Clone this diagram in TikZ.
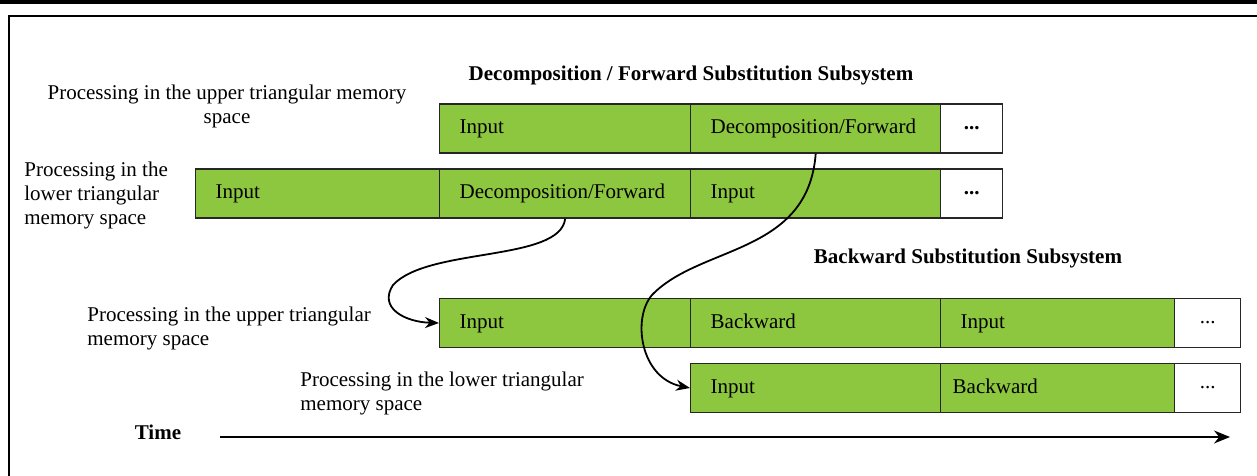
\documentclass[tikz,border=0pt]{standalone}
\usepackage{fontspec}
\setmainfont{Liberation Serif}
\usetikzlibrary{arrows.meta}
\definecolor{cellgreen}{RGB}{141,198,63}
\begin{document}
\begin{tikzpicture}[x=0.5pt,y=-0.5pt,
 every node/.style={font=\fontsize{10.5}{12}\selectfont},
 cell/.style={draw=black!85, line width=0.7pt, fill=cellgreen, minimum height=24.5pt, inner xsep=10pt, inner ysep=0pt, align=left, anchor=west, text height=7pt, text depth=2pt},
 dotcell/.style={draw=black!85, line width=0.7pt, fill=white, minimum height=24.5pt, inner sep=0pt, anchor=west},
 lbl/.style={align=left, anchor=west, inner sep=0pt},
 ttl/.style={font=\fontsize{10.5}{12}\selectfont\bfseries, inner sep=0pt},
 flow/.style={line width=0.9pt, -{Stealth[length=7pt,width=5.5pt]}}
]
\useasboundingbox (0,0) rectangle (1257,476);
% frame
\draw[line width=1.8pt] (0,2) -- (1257,2);
\draw[line width=0.8pt] (9,476) -- (9,16) -- (1257,16);

% titles
\node[ttl] (t1) at (691,75) {Decomposition / Forward Substitution Subsystem};
\node[ttl] (t2) at (968,258) {Backward Substitution Subsystem};

% side labels
\node[align=center, inner sep=0pt] (l1) at (227,106) {Processing in the upper triangular memory\\space};
\node[lbl] (l2) at (24,195) {Processing in the\\lower triangular\\memory space};
\node[lbl] (l3) at (87,328.5) {Processing in the upper triangular\\memory space};
\node[lbl] (l4) at (300,393.5) {Processing in the lower triangular\\memory space};

% row 1
\node[cell, text width=105.5pt] (r1a) at (439,128.5) {Input};
\node[cell, text width=105pt] (r1b) at (690,128.5) {\mbox{Decomposition/Forward}};
\node[dotcell, minimum width=31pt] (r1c) at (940,128.5) {\textbf{...}};
% row 2
\node[cell, text width=102pt] (r2a) at (195,193.5) {Input};
\node[cell, text width=105.5pt] (r2b) at (439,193.5) {\mbox{Decomposition/Forward}};
\node[cell, text width=105pt] (r2c) at (690,193.5) {Input};
\node[dotcell, minimum width=31pt] (r2d) at (940,193.5) {\textbf{...}};
% row 3
\node[cell, text width=105.5pt] (r3a) at (439,323) {Input};
\node[cell, text width=105pt] (r3b) at (690,323) {Backward};
\node[cell, text width=97pt] (r3c) at (940,323) {Input};
\node[dotcell, minimum width=33pt] (r3d) at (1174,323) {...};
% row 4
\node[cell, text width=105pt] (r4a) at (690,388) {Input};
\node[cell, inner xsep=6pt, text width=105pt] (r4b) at (940,388) {Backward};
\node[dotcell, minimum width=33pt] (r4c) at (1174,388) {...};

% connectors
\draw[flow] (r2b.south) .. controls (560,262) and (428,247) .. (393,285)
            .. controls (378,308) and (405,322) .. (r3a.west);
\draw[flow] (r1b.south) .. controls (808,255) and (700,245) .. (652,295)
            .. controls (632,318) and (640,378) .. (r4a.west);

% time axis
\node[ttl] (time) at (158,432) {Time};
\coordinate (ts) at (220,437);
\coordinate (te) at (1230,437);
\draw[line width=1pt, -{Stealth[length=8pt,width=6.5pt]}] (ts) -- (te);
\end{tikzpicture}
\end{document}
